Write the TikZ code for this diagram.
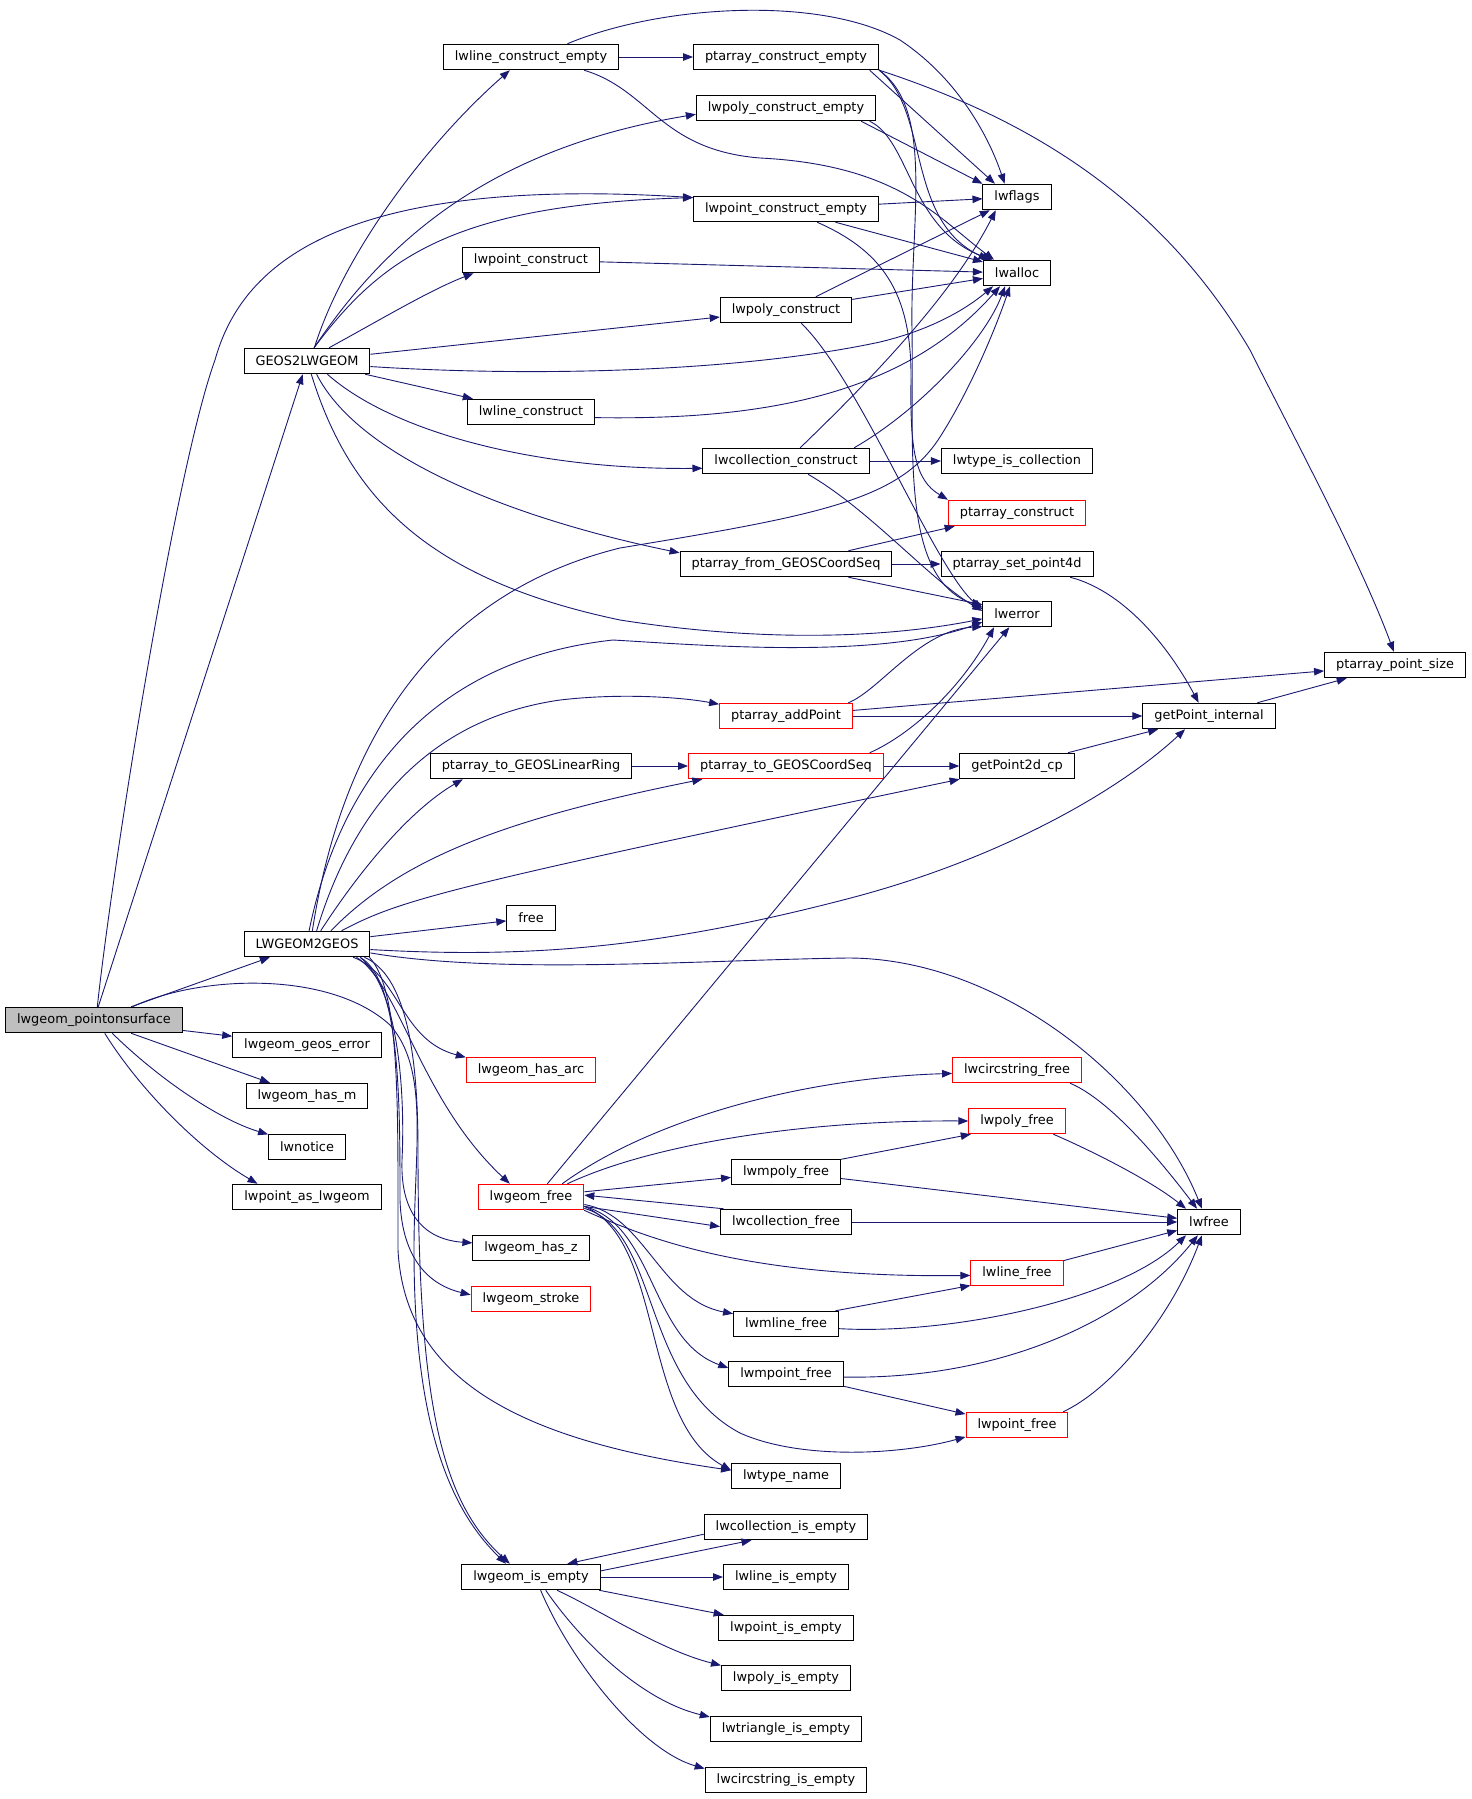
\documentclass[tikz,border=0pt]{standalone}
\usepackage{fontspec}
\setmainfont{DejaVu Sans}
\usetikzlibrary{arrows.meta}
\definecolor{edgeblue}{HTML}{191970}
\definecolor{rootgrey}{HTML}{BFBFBF}
\begin{document}
\begin{tikzpicture}[x=1pt,y=-1pt,
    fn/.style={draw=black,line width=1pt,fill=white,minimum height=25.5pt,inner xsep=11.5pt,inner ysep=0pt,font=\fontsize{12.9}{15}\selectfont},
    fnred/.style={fn,draw=red},
    fnroot/.style={fn,fill=rootgrey},
    call/.style={draw=edgeblue,line width=0.9pt,-{Triangle[length=10pt,width=7.5pt]}}]
    \useasboundingbox (0,0) rectangle (1472,1799);
    \node[fnroot] (P) at (94,1020) {lwgeom\_pointonsurface};
    \node[fn] (G2L) at (307,361) {GEOS2LWGEOM};
    \node[fn] (L2G) at (307,944) {LWGEOM2GEOS};
    \node[fn] (lce) at (531,57) {lwline\_construct\_empty};
    \node[fn] (pce) at (786,57) {ptarray\_construct\_empty};
    \node[fn] (lpce) at (786,108) {lwpoly\_construct\_empty};
    \node[fn] (lptce) at (786,209) {lwpoint\_construct\_empty};
    \node[fn] (lptc) at (531,260) {lwpoint\_construct};
    \node[fn] (lpc) at (786,310) {lwpoly\_construct};
    \node[fn] (llc) at (531,412) {lwline\_construct};
    \node[fn] (flags) at (1017,197) {lwflags};
    \node[fn] (alloc) at (1017,273) {lwalloc};
    \node[fn] (lcc) at (786,461) {lwcollection\_construct};
    \node[fn] (ltic) at (1017,461) {lwtype\_is\_collection};
    \node[fnred] (pc) at (1017,513) {ptarray\_construct};
    \node[fn] (pfg) at (786,564) {ptarray\_from\_GEOSCoordSeq};
    \node[fn] (psp) at (1017,564) {ptarray\_set\_point4d};
    \node[fn] (err) at (1017,614) {lwerror};
    \node[fn] (pps) at (1395,665) {ptarray\_point\_size};
    \node[fnred] (pap) at (786,716) {ptarray\_addPoint};
    \node[fn] (gpi) at (1209,716) {getPoint\_internal};
    \node[fn] (ptglr) at (531,766) {ptarray\_to\_GEOSLinearRing};
    \node[fnred] (ptgcs) at (786,766) {ptarray\_to\_GEOSCoordSeq};
    \node[fn] (gp2) at (1017,766) {getPoint2d\_cp};
    \node[fn] (fr) at (531,918) {free};
    \node[fn] (lgge) at (307,1045) {lwgeom\_geos\_error};
    \node[fnred] (lgha) at (531,1070) {lwgeom\_has\_arc};
    \node[fn] (lghm) at (307,1096) {lwgeom\_has\_m};
    \node[fn] (notice) at (307,1147) {lwnotice};
    \node[fnred] (lgf) at (531,1197) {lwgeom\_free};
    \node[fn] (lpal) at (307,1197) {lwpoint\_as\_lwgeom};
    \node[fn] (lghz) at (531,1248) {lwgeom\_has\_z};
    \node[fnred] (lgs) at (531,1299) {lwgeom\_stroke};
    \node[fnred] (lcsf) at (1017,1070) {lwcircstring\_free};
    \node[fnred] (lpf) at (1017,1121) {lwpoly\_free};
    \node[fn] (lmpf) at (786,1172) {lwmpoly\_free};
    \node[fn] (lcf) at (786,1222) {lwcollection\_free};
    \node[fn] (lwfree) at (1209,1222) {lwfree};
    \node[fnred] (llf) at (1017,1273) {lwline\_free};
    \node[fn] (lmlf) at (786,1324) {lwmline\_free};
    \node[fn] (lmptf) at (786,1374) {lwmpoint\_free};
    \node[fnred] (lptf) at (1017,1425) {lwpoint\_free};
    \node[fn] (ltn) at (786,1476) {lwtype\_name};
    \node[fn] (lcie) at (786,1527) {lwcollection\_is\_empty};
    \node[fn] (lgie) at (531,1577) {lwgeom\_is\_empty};
    \node[fn] (llie) at (786,1577) {lwline\_is\_empty};
    \node[fn] (lptie) at (786,1628) {lwpoint\_is\_empty};
    \node[fn] (lpie) at (786,1678) {lwpoly\_is\_empty};
    \node[fn] (ltie) at (786,1729) {lwtriangle\_is\_empty};
    \node[fn] (lcsie) at (786,1780) {lwcircstring\_is\_empty};

    \draw[call] (lce) -- (pce);
    \draw[call] (lce.20) .. controls (660,5) and (820,-5) .. (900,40) .. controls (960,80) and (990,140) .. (flags.133);
    \draw[call] (lce.-14) .. controls (650,90) and (660,150) .. (760,158) .. controls (900,165) and (940,220) .. (alloc.150);
    \draw[call] (pce.-9.6) -- (flags.149);
    \draw[call] (pce.-8.8) .. controls (1000,110) and (1150,180) .. (1250,350) .. controls (1290,430) and (1360,560) .. (pps.95);
    \draw[call] (pce.-8.2) .. controls (930,110) and (905,220) .. (alloc.155);
    \draw[call] (pce.-8) .. controls (935,110) and (910,220) .. (912,330) .. controls (914,450) and (900,580) .. (err.168);
    \draw[call] (lpce.-10.4) -- (flags.159);
    \draw[call] (lpce.-9.3) .. controls (910,140) and (910,230) .. (alloc.152);
    \draw[call] (lptce) -- (flags);
    \draw[call] (lptce.-15.5) -- (alloc.162);
    \draw[call] (lptce.-23) .. controls (880,250) and (912,290) .. (911,380) .. controls (910,450) and (915,480) .. (pc.north west);
    \draw[call] (lptc) -- (alloc);
    \draw[call] (lpc.24) -- (flags.-154);
    \draw[call] (lpc) -- (alloc);
    \draw[call] (lpc.-41) .. controls (860,380) and (935,570) .. (err.172);

    \draw[call] (G2L.61) .. controls (345,250) and (430,140) .. (lce.-148);
    \draw[call] (G2L.62) .. controls (380,250) and (480,150) .. (lpce.184);
    \draw[call] (G2L.62) .. controls (380,260) and (450,205) .. (lptce.173);
    \draw[call] (G2L.31) .. controls (380,320) and (430,290) .. (lptc.-167);
    \draw[call] (G2L) -- (lpc);
    \draw[call] (G2L.-5.4) .. controls (550,378) and (750,370) .. (880,342) .. controls (930,330) and (965,310) .. (alloc.-151.5);
    \draw[call] (G2L) -- (llc);
    \draw[call] (G2L.-33) .. controls (390,430) and (530,470) .. (lcc.185);
    \draw[call] (G2L.-54) .. controls (360,460) and (520,520) .. (pfg.174);
    \draw[call] (G2L.-72) .. controls (350,500) and (430,580) .. (620,620) .. controls (780,645) and (900,635) .. (err.188);
    \draw[call] (llc.-5.4) .. controls (750,420) and (900,400) .. (alloc.-142.6);

    \draw[call] (lcc) -- (ltic);
    \draw[call] (lcc.43) .. controls (860,390) and (950,300) .. (flags.-148);
    \draw[call] (lcc.11) .. controls (920,410) and (985,340) .. (alloc.-132.7);
    \draw[call] (lcc.-31) .. controls (870,510) and (930,580) .. (err.175);
    \draw[call] (pfg.12) -- (pc.-168);
    \draw[call] (pfg) -- (psp);
    \draw[call] (pfg.-12.4) -- (err.165);
    \draw[call] (psp.-14) .. controls (1120,590) and (1165,640) .. (gpi.128);
    \draw[call] (pap.12.8) .. controls (880,690) and (920,630) .. (err.-160);
    \draw[call] (pap) -- (pps);
    \draw[call] (pap) -- (gpi);
    \draw[call] (ptgcs.9.7) .. controls (910,735) and (960,690) .. (err.-150);
    \draw[call] (ptgcs) -- (gp2);
    \draw[call] (ptglr) -- (ptgcs);
    \draw[call] (gp2) -- (gpi);
    \draw[call] (gpi) -- (pps);
    \draw[call] (lgf.39) -- (err.-120);

    \draw[call] (lgf.23) .. controls (650,1120) and (800,1078) .. (lcsf.183);
    \draw[call] (lgf.20) .. controls (650,1145) and (800,1120) .. (lpf.west);
    \draw[call] (lgf) -- (lmpf);
    \draw[call] (lcf.168) -- (lgf.2);
    \draw[call] (lgf.-10.7) -- (lcf.184);
    \draw[call] (lgf.-14) .. controls (650,1240) and (750,1278) .. (llf.183);
    \draw[call] (lgf.-8) .. controls (645,1215) and (660,1300) .. (lmlf.169.5);
    \draw[call] (lgf.-10) .. controls (655,1225) and (650,1340) .. (lmptf.174);
    \draw[call] (lgf.-12) .. controls (660,1230) and (640,1380) .. (740,1433) .. controls (800,1460) and (900,1455) .. (lptf.-167);
    \draw[call] (lgf.-10) .. controls (665,1240) and (640,1420) .. (ltn.174);

    \draw[call] (lcsf.-14) .. controls (1110,1100) and (1160,1160) .. (lwfree.132);
    \draw[call] (lpf.-20) .. controls (1090,1150) and (1150,1180) .. (lwfree.150);
    \draw[call] (lmpf.13.3) -- (lpf.-164.6);
    \draw[call] (lmpf) -- (lwfree);
    \draw[call] (lcf) -- (lwfree);
    \draw[call] (llf) -- (lwfree);
    \draw[call] (lmlf.15) -- (llf.-165);
    \draw[call] (lmlf.-5) .. controls (950,1335) and (1120,1300) .. (lwfree.-150);
    \draw[call] (lmptf.-3) .. controls (1000,1380) and (1130,1320) .. (lwfree.-130);
    \draw[call] (lmptf.-12.6) -- (lptf.168);
    \draw[call] (lptf.16) .. controls (1110,1390) and (1170,1320) .. (lwfree.-118);

    \draw[call] (lcie.185) -- (lgie.20);
    \draw[call] (lgie.5.6) -- (lcie.-159);
    \draw[call] (lgie) -- (llie);
    \draw[call] (lgie.-11) -- (lptie.168);
    \draw[call] (lgie.-27.5) .. controls (600,1610) and (660,1650) .. (lpie.169.5);
    \draw[call] (lgie.-42) .. controls (580,1640) and (640,1700) .. (ltie.171);
    \draw[call] (lgie.-54) .. controls (570,1660) and (640,1750) .. (lcsie.172);

    \draw[call] (P) -- (G2L);
    \draw[call] (P) -- (L2G);
    \draw[call] (P.76) .. controls (112,870) and (175,470) .. (215,360) .. controls (240,270) and (330,175) .. (lptce.173);
    \draw[call] (P) -- (lgge);
    \draw[call] (P) -- (lghm);
    \draw[call] (P.-36) .. controls (160,1080) and (220,1120) .. (notice.162);
    \draw[call] (P.-51) .. controls (140,1090) and (200,1150) .. (lpal.165);
    \draw[call] (P.19) .. controls (200,975) and (330,970) .. (390,1025) .. controls (430,1070) and (414,1150) .. (414,1250) .. controls (414,1400) and (440,1500) .. (lgie.152);

    \draw[call] (L2G) -- (fr);
    \draw[call] (L2G.-5) .. controls (520,958) and (650,950) .. (843,900) .. controls (1000,860) and (1120,790) .. (gpi.-151);
    \draw[call] (L2G.-8) .. controls (500,975) and (700,960) .. (848,958) .. controls (1000,958) and (1150,1080) .. (lwfree.118);
    \draw[call] (L2G.81) .. controls (340,780) and (430,660) .. (613,640) .. controls (700,645) and (880,660) .. (err.193);
    \draw[call] (L2G.68) .. controls (345,720) and (450,590) .. (620,548) .. controls (820,515) and (900,500) .. (940,437) .. controls (970,390) and (995,330) .. (alloc.-118);
    \draw[call] (L2G.54) .. controls (350,820) and (420,720) .. (560,700) .. controls (620,693) and (680,697) .. (pap.170.7);
    \draw[call] (L2G.44) .. controls (360,870) and (410,810) .. (ptglr.-169);
    \draw[call] (L2G.29) .. controls (400,860) and (500,820) .. (ptgcs.-171);
    \draw[call] (L2G.21) .. controls (400,900) and (440,888) .. (gp2.-167);
    \draw[call] (L2G.-16) .. controls (400,975) and (400,1040) .. (lgha.169.5);
    \draw[call] (L2G.-15) .. controls (400,985) and (420,1100) .. (lgf.148);
    \draw[call] (L2G.-14) .. controls (400,990) and (405,1100) .. (402,1160) .. controls (400,1220) and (430,1240) .. (lghz.175);
    \draw[call] (L2G.-14) .. controls (400,980) and (400,1100) .. (400,1200) .. controls (402,1260) and (430,1285) .. (lgs.176);
    \draw[call] (L2G.-13) .. controls (405,975) and (418,1050) .. (418,1150) .. controls (418,1400) and (440,1500) .. (lgie.148);
    \draw[call] (L2G.-12) .. controls (400,990) and (398,1100) .. (398,1250) .. controls (405,1380) and (520,1440) .. (ltn.174);
\end{tikzpicture}
\end{document}
